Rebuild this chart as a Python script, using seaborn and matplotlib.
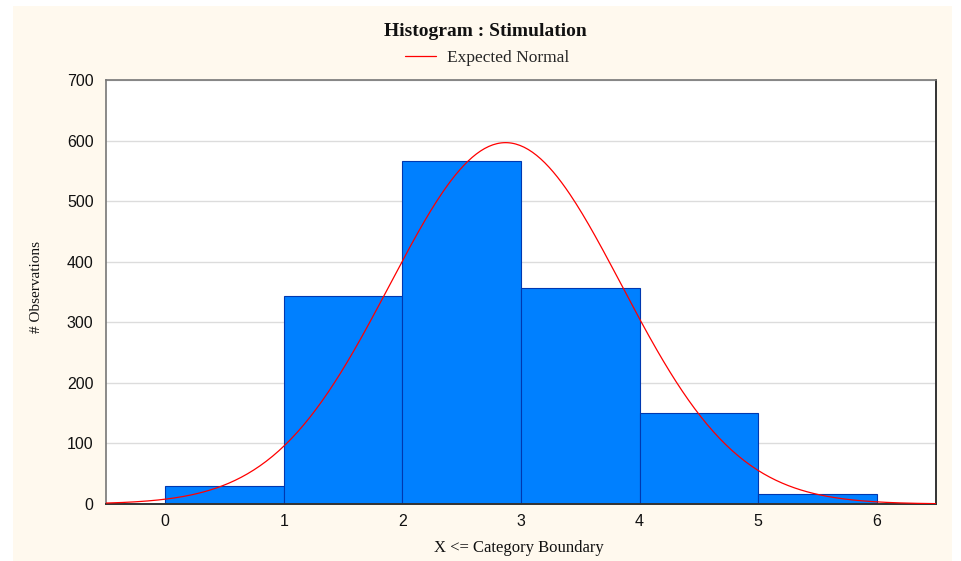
import numpy as np
import pandas as pd
import matplotlib
matplotlib.use("Agg")
import matplotlib.pyplot as plt
import seaborn as sns
from matplotlib.patches import Rectangle
from matplotlib.lines import Line2D

# ---- data ----
bin_edges = [0, 1, 2, 3, 4, 5, 6]
bin_left = [0, 1, 2, 3, 4, 5]
counts = [29, 343, 566, 356, 151, 16]
x_ticks = [0, 1, 2, 3, 4, 5, 6]
y_ticks = [0, 100, 200, 300, 400, 500, 600, 700]
# expected normal parameters (fitted): mean, std dev, N, bin width
norm_mean = 2.87
norm_sd = 0.977
norm_n = sum(counts)
bin_width = 1.0

sns.set_theme(style="white")
serif = ["Liberation Serif", "DejaVu Serif"]
sans = ["Liberation Sans", "DejaVu Sans"]

fig = plt.figure(figsize=(9.61, 5.61), dpi=100, facecolor="white")
# cream panel
fig.patches.append(Rectangle((13 / 961, 0), (952 - 13) / 961, 1 - 6 / 561,
                             transform=fig.transFigure, facecolor="#FFF9EE",
                             edgecolor="none", zorder=-10))

ax = fig.add_axes([106 / 961, 1 - 504 / 561, (936 - 106) / 961, (504 - 80) / 561])
ax.set_facecolor("white")

df = pd.DataFrame({"x": bin_left, "count": counts})
sns.histplot(data=df, x="x", weights="count", bins=bin_edges, ax=ax,
             color="#0080FF", alpha=1.0, edgecolor="#0038B0", linewidth=0.8,
             zorder=2)

xs = np.linspace(-0.5, 6.5, 400)
ys = norm_n * bin_width / (norm_sd * np.sqrt(2 * np.pi)) * np.exp(-0.5 * ((xs - norm_mean) / norm_sd) ** 2)
sns.lineplot(x=xs, y=ys, ax=ax, color="#FF0000", linewidth=0.9, zorder=3)

ax.set_xlim(-0.5, 6.5)
ax.set_ylim(0, 700)
ax.set_xticks(x_ticks)
ax.set_yticks(y_ticks)
ax.set_xticklabels([str(v) for v in x_ticks], family=sans, fontsize=11.5, color="#111111")
ax.set_yticklabels([str(v) for v in y_ticks], family=sans, fontsize=11.5, color="#111111")
ax.tick_params(axis="both", length=0)
ax.tick_params(axis="y", pad=9)
ax.tick_params(axis="x", pad=7)
ax.yaxis.grid(True, color="#DCDCDC", linewidth=1.0, zorder=0)
ax.xaxis.grid(False)
ax.set_axisbelow(True)

for side in ["left", "top"]:
    ax.spines[side].set_color("#777777")
    ax.spines[side].set_linewidth(1.2)
for side in ["right", "bottom"]:
    ax.spines[side].set_color("#333333")
    ax.spines[side].set_linewidth(1.4)

ax.set_xlabel("X <= Category Boundary", family=serif, fontsize=12, color="#111111")
ax.xaxis.set_label_coords((519 - 106) / 830, -(548 - 504) / 424)
ax.xaxis.label.set_va("center")
ax.set_ylabel("# Observations", family=serif, fontsize=11, color="#111111")
ax.yaxis.set_label_coords((37 - 106) / 830, (504 - 287) / 424)
ax.yaxis.label.set_va("center")

fig.text(485 / 961, 1 - 31 / 561, "Histogram : Stimulation", family=serif,
         fontsize=14, fontweight="bold", ha="center", va="center", color="#111111")
handle = Line2D([0], [0], color="#FF0000", linewidth=0.9)
fig.legend([handle], ["Expected Normal"], loc="center", bbox_to_anchor=(487 / 961, 1 - 58 / 561),
           frameon=False, prop={"family": serif, "size": 12.5}, handlelength=1.8,
           handletextpad=0.6)

fig.savefig("out.png", dpi=100, facecolor="white")
